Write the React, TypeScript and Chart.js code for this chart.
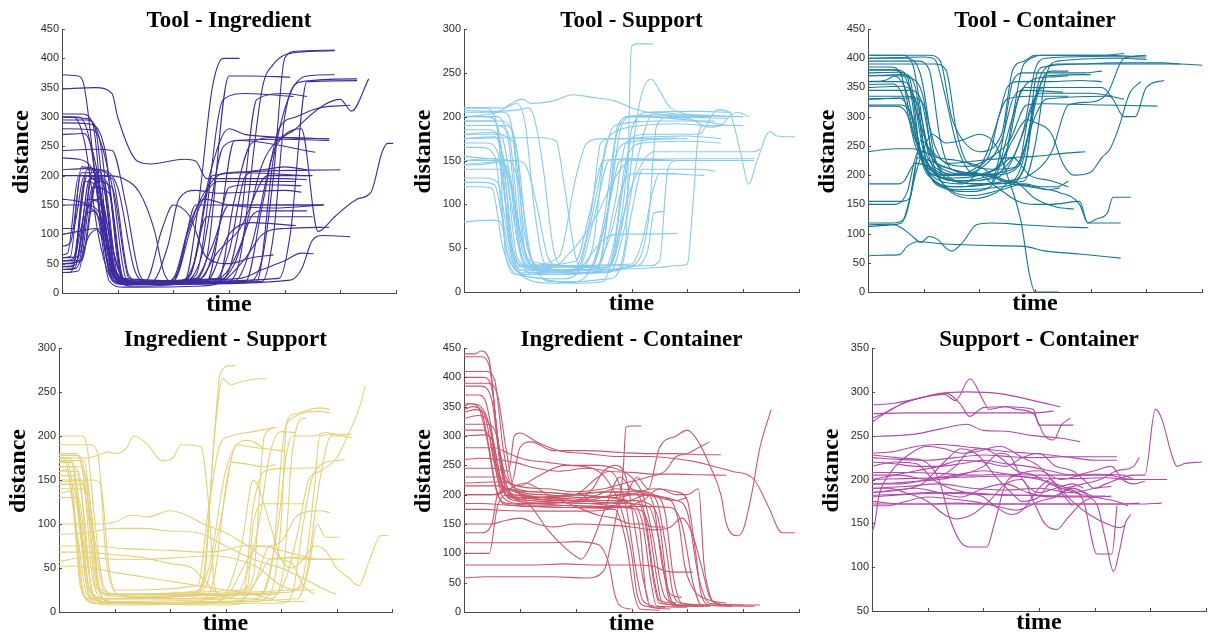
import React, { useEffect, useRef } from "react";
import { Chart, registerables } from "chart.js";
Chart.register(...registerables);

// ---------- data (each line: flat list of time, distance pairs) ----------
const timeTicks = [0, 100, 200, 300, 400, 500, 600];

const toolIngredient: number[][] = [
  [0,55,20,58,45,210,70,205,95,40,115,20,200,18,240,30,290,330,330,340,416,335],
  [0,45,25,48,50,195,75,190,100,30,125,15,230,20,260,60,300,370,340,370,410,368],
  [0,35,30,38,55,180,85,170,110,25,140,18,250,25,280,100,310,260,400,262,480,260],
  [0,60,15,62,35,215,60,210,85,50,105,22,180,15,210,40,240,150,280,150,470,150],
  [0,50,35,55,65,200,90,195,120,30,150,15,300,20,320,60,360,350,380,390,420,410,490,413],
  [0,40,22,42,48,150,70,160,100,20,130,12,210,15,240,60,270,200,330,205,440,200],
  [0,100,30,105,60,110,95,40,120,15,260,20,300,180,340,185,430,183],
  [0,300,40,298,60,280,85,60,105,20,200,15,230,30,260,130,300,130,450,130],
  [0,295,45,295,70,250,95,40,115,18,220,20,250,60,290,250,320,260,455,240],
  [0,290,50,288,78,240,105,30,130,15,330,18,360,60,380,200,400,400,420,412,490,414],
  [0,305,35,305,55,290,80,60,100,18,170,15,200,25,230,120,280,200,300,205,500,210],
  [0,280,55,278,80,220,110,20,140,15,360,20,380,100,400,300,430,360,530,365],
  [0,300,30,300,52,250,72,100,92,20,190,18,230,30,265,200,300,280,330,270,480,263],
  [0,372,28,370,38,360,60,200,85,40,110,15,200,20,235,120,280,190,420,190],
  [0,348,60,350,90,340,100,300,135,225,160,220,220,228,240,225,260,195,400,195,440,193],
  [0,243,60,245,90,243,115,150,140,30,165,15,260,20,300,100,340,120,420,115],
  [0,210,40,212,70,210,100,180,130,40,150,20,240,25,270,80,300,150,360,150,470,150],
  [0,230,30,228,60,200,90,80,110,25,280,20,310,50,340,130,360,140,440,140],
  [0,200,80,200,110,195,140,170,165,110,185,30,210,15,410,22,430,40,450,90,470,98,518,96],
  [0,150,40,150,65,140,95,40,120,20,280,25,320,80,360,220,400,270,430,280,460,105,490,130,530,160,555,172,575,240,585,255,595,255],
  [0,60,30,62,55,200,80,190,110,25,140,15,310,20,340,80,380,240,420,280,470,320,500,330,520,310,551,365],
  [0,45,20,45,40,190,65,180,90,35,110,18,390,25,410,100,440,360,530,362],
  [0,50,25,52,45,160,70,150,95,30,120,20,320,25,360,40,400,55,430,68,452,67],
  [0,40,25,42,50,100,75,110,100,20,140,15,220,20,245,150,270,350,290,400,319,400],
  [0,55,35,55,60,190,90,180,120,25,160,15,330,20,360,150,390,280,420,300,460,315,518,320],
  [0,35,15,35,40,130,60,140,85,20,110,10,250,12,290,20,330,60,360,100,400,110,480,112],
  [0,65,10,68,30,200,55,200,80,60,100,22,160,18,190,80,210,160,240,175,280,170,400,175,430,172],
  [0,160,20,158,45,150,70,120,95,30,115,15,240,18,280,70,320,110,370,200,420,200,450,200],
  [0,50,20,50,45,200,70,195,95,60,115,20,350,20,380,230,410,340,440,370,490,372],
  [0,55,30,55,55,210,85,200,115,25,145,15,280,20,310,160,340,255,380,265,480,263],
  [0,270,40,272,65,200,90,40,110,15,200,20,225,100,255,160,300,150,380,145,470,150],
  [0,300,20,300,40,260,65,100,85,30,105,15,270,18,300,70,330,200,360,210,400,215,440,210],
  [0,110,20,110,40,200,60,190,90,40,110,20,290,25,320,120,350,330,400,340,440,335],
  [0,80,15,85,35,205,60,205,85,70,105,25,150,20,180,110,200,150,230,130,260,60,300,50,340,60,380,65],
];

const toolSupport: number[][] = [
  [0,205,70,205,85,190,105,60,125,30,200,25,230,50,250,150,270,190,350,195,450,195],
  [0,200,60,200,80,170,100,50,120,25,220,22,250,80,270,170,290,200,380,202,500,200],
  [0,195,55,195,70,150,90,45,110,28,240,30,260,100,275,190,300,200,420,195,470,190],
  [0,190,75,190,95,160,110,40,140,25,260,28,285,120,300,175,400,178,460,175],
  [0,180,65,180,85,120,105,35,125,20,280,25,300,90,320,140,420,140,450,138],
  [0,175,55,177,75,140,95,40,115,30,200,35,225,90,250,150,300,152,380,150],
  [0,150,50,152,80,150,100,120,120,40,140,25,230,30,260,100,280,150,400,152,520,152],
  [0,145,40,146,60,148,80,140,95,60,115,30,300,32,320,60,340,120,350,135,430,133],
  [0,155,45,152,70,148,90,80,105,35,150,20,250,25,270,60,290,150,320,170,400,172,460,170],
  [0,140,60,140,80,135,100,70,120,30,160,22,310,30,330,50,340,90,360,92],
  [0,80,50,82,65,80,80,40,100,22,200,25,250,60,280,66,330,66,384,67],
  [0,210,45,210,70,210,95,215,110,190,125,100,140,40,160,25,260,22,290,80,310,150,340,205,400,202,480,200],
  [0,200,60,205,85,215,105,220,120,215,160,218,195,225,230,222,270,218,300,210,330,205,390,200,470,198],
  [0,207,60,206,100,208,115,210,125,200,140,150,160,50,175,30,260,28,285,100,300,185,330,205,420,206,480,205],
  [0,185,45,185,65,170,80,60,100,20,160,10,260,15,290,60,300,280,310,283,330,283,339,283],
  [0,170,40,170,60,160,85,50,105,30,260,30,290,100,310,200,320,230,335,243,350,230,370,210,440,200],
  [0,130,35,130,60,125,80,60,100,25,180,20,210,40,230,100,245,170,265,175,330,175,380,176],
  [0,125,35,125,55,122,70,80,90,30,230,25,260,60,290,130,310,135,380,135],
  [0,145,50,148,70,148,90,100,110,35,140,25,350,28,380,30,400,32,410,100,420,180,430,190,500,190],
  [0,190,55,190,80,180,100,70,120,35,200,30,240,30,270,100,290,170,330,180,420,180,455,208,475,205,495,160,510,123,525,150,548,183,560,178,593,177],
  [0,165,30,165,55,155,75,50,95,25,140,15,200,10,250,12,270,50,300,120,340,160,420,160,520,160,530,163],
  [0,150,60,150,90,150,110,145,130,100,150,40,170,30,330,30,350,35,365,140,380,150,450,150,520,150],
  [0,200,40,200,60,190,75,40,95,20,200,20,220,60,240,120,255,170,280,185,320,190,380,192,430,190],
  [0,195,65,195,85,185,110,60,130,25,150,12,200,12,230,30,260,100,280,185,300,200,400,198,440,188,460,190,475,200,490,205,510,200],
  [0,180,50,182,80,175,95,160,115,50,135,30,240,28,270,150,290,170,400,175],
  [0,120,30,120,50,118,70,50,95,20,180,15,210,30,235,90,260,150,300,152,360,150],
  [0,150,40,150,70,145,85,50,100,25,160,28,190,45,210,60,240,90,270,130,300,150,370,150],
  [0,210,35,210,55,200,75,100,90,40,110,30,170,40,200,130,220,170,250,175,320,175],
  [0,175,80,176,140,176,165,172,180,120,200,40,215,25,300,30,330,80,345,190,370,200,440,200],
];

const toolContainer: number[][] = [
  [0,405,60,405,80,390,105,250,125,200,160,190,230,195,280,280,300,380,320,400,400,403,480,402],
  [0,400,70,400,95,370,120,230,140,195,200,185,280,190,300,250,320,370,340,395,450,400,500,398],
  [0,395,90,395,110,380,130,260,150,210,200,200,240,205,260,300,280,390,320,405,420,405,460,408],
  [0,390,120,390,140,380,160,270,180,220,230,210,270,215,290,280,310,370,340,390,470,390,560,390,600,388],
  [0,380,50,380,70,370,90,260,110,200,150,180,220,185,240,250,260,360,280,375,390,375,420,378],
  [0,375,55,376,75,365,95,230,120,190,160,175,240,180,280,210,300,320,320,370,400,372],
  [0,370,65,372,85,350,105,220,130,180,180,172,220,180,260,300,280,350,420,350,440,330,460,300,480,300,500,350,532,362],
  [0,360,60,360,80,340,100,240,125,200,170,190,230,200,270,215,290,310,310,340,400,340,440,335],
  [0,355,45,356,65,330,85,250,110,210,150,200,200,210,240,260,260,330,280,345,350,342],
  [0,335,70,335,90,320,110,240,135,210,190,200,240,205,270,220,300,300,320,330,430,335,460,330],
  [0,330,80,332,100,320,120,250,140,220,180,215,220,230,255,260,285,320,320,322,420,320,520,318],
  [0,320,60,320,80,300,100,220,120,190,160,180,210,185,250,190,290,200,330,240,360,320,400,325,430,340,460,400,500,405],
  [0,318,50,318,70,305,85,260,105,220,130,195,180,190,260,230,300,330,320,375,330,378,360,378],
  [0,345,75,345,95,330,115,240,140,200,200,185,230,185,260,190,280,230,300,330,320,350,400,350],
  [0,360,30,362,50,370,80,365,100,330,115,230,140,180,190,165,240,175,280,185,310,180,340,180,360,190],
  [0,400,100,402,120,398,140,330,160,250,185,205,220,200,250,190,300,180,320,175,345,178],
  [0,155,60,155,75,160,95,260,115,240,145,220,200,225,260,230,300,232,360,238,390,240],
  [0,150,50,150,70,170,90,240,115,210,150,170,190,160,230,170,260,190,300,160,340,145,370,142],
  [0,185,55,185,65,190,85,220,110,215,140,200,190,205,230,180,270,155,300,150,330,150,380,155,395,118,410,125,430,135,440,162,472,162],
  [0,240,50,245,80,245,100,240,125,230,160,225,200,215,240,190,290,180,345,170,380,150,395,118,454,118],
  [0,118,45,118,65,125,85,200,100,245,115,270,140,255,170,260,200,270,230,250,250,200,275,120,290,30,300,0,342,0],
  [0,115,40,116,60,110,80,95,95,85,110,95,125,90,140,75,150,70,170,85,195,115,220,118,280,115,330,112,396,110],
  [0,62,25,63,57,64,70,78,90,86,140,82,200,80,240,79,280,78,320,70,380,65,454,58],
  [0,112,30,114,60,118,75,160,90,230,110,225,150,210,200,200,230,210,260,230,290,200,330,190,360,180],
  [0,385,40,385,60,370,80,280,100,220,130,190,170,185,210,230,235,300,250,350,270,360,330,360,380,362,420,360],
  [0,405,110,405,130,395,150,300,170,260,200,240,240,270,260,380,280,395,300,405,420,405,500,402],
  [0,330,55,332,75,310,95,230,120,200,150,200,190,210,220,240,235,300,250,330,290,335,360,335],
  [0,370,45,370,70,340,90,250,110,205,150,195,200,200,250,245,270,330,300,365,330,368,360,370],
  [0,350,60,352,85,330,100,250,125,210,170,200,230,210,260,260,285,295,300,290,330,270,350,220,370,200,400,205,420,230,435,245,450,280,470,340,490,360],
  [0,380,40,380,65,370,90,300,115,230,150,210,210,200,255,190,285,230,300,360,315,385,380,390,440,392,530,392,560,390],
];

const ingredientSupport: number[][] = [
  [0,175,20,175,35,120,50,30,65,15,200,18,240,20,260,40,280,200,290,270,310,280,317,280],
  [0,170,25,170,40,100,55,25,75,15,230,15,260,30,280,200,295,265,310,258,320,260,360,265,374,265],
  [0,165,30,165,45,110,60,20,80,12,300,15,330,30,360,100,380,180,400,205,425,204],
  [0,178,35,178,50,140,65,30,90,20,330,25,350,40,370,200,392,210],
  [0,160,15,162,30,100,45,20,70,10,350,12,380,20,400,100,410,215,425,225,470,232,488,230],
  [0,150,40,150,55,100,70,25,100,18,360,20,385,60,405,200,420,220,470,228,488,226],
  [0,145,45,145,60,90,75,20,100,10,380,15,405,50,420,180,440,220,445,220],
  [0,140,50,140,65,80,80,25,110,20,420,25,440,40,460,140,470,200,500,202,527,202],
  [0,135,20,137,35,80,50,20,80,12,400,10,420,20,440,100,455,150,480,170,500,172,515,173],
  [0,200,40,200,50,190,65,100,80,30,100,20,260,25,290,100,320,190,340,188,380,185,405,183],
  [0,190,55,190,70,180,85,60,100,25,250,30,270,120,290,190,310,200,350,205,392,210],
  [0,175,50,175,70,178,90,182,100,180,120,185,135,200,160,190,185,172,205,175,220,190,255,188,270,120,280,30,290,20,400,22,440,30,470,150,490,200,520,200],
  [0,100,60,100,100,102,130,110,160,108,200,115,230,110,260,100,300,90,340,75,380,60,430,62,460,60,490,60,515,60],
  [0,88,50,90,100,95,150,95,200,92,250,90,300,75,350,60,400,50,450,35,480,25,500,20],
  [0,75,60,75,120,72,200,70,260,68,300,70,330,75,370,75,400,80,430,110,470,115,488,113],
  [0,68,50,68,100,65,150,62,200,55,240,50,270,30,290,20,330,15,360,40,380,60,410,62,440,60,460,60],
  [0,52,30,52,60,50,100,45,150,40,200,35,250,30,300,25,350,20,380,15,400,12,443,12],
  [0,180,30,180,45,150,60,40,80,15,120,10,300,8,330,10,350,120,370,160,400,163,470,164],
  [0,155,25,155,40,90,55,25,85,15,310,20,340,30,350,100,370,123,440,123],
  [0,170,10,172,25,120,40,30,60,10,280,12,300,20,330,80,350,150,380,100,400,60,420,50,440,60,460,75,480,70,500,50,520,40,540,30,560,60,580,87,594,87],
  [0,165,40,165,55,130,70,30,95,20,390,20,410,40,430,90,450,150,470,160,500,175,520,200,540,230,552,257],
  [0,175,10,175,25,140,38,30,55,15,350,15,370,25,395,100,410,180,420,200,460,200,480,204,510,200,527,198],
  [0,160,35,160,50,70,60,20,85,10,250,12,280,40,300,140,310,170,340,168,370,165,390,168],
  [0,172,45,172,60,100,75,20,100,10,430,15,450,50,465,100,480,85,505,85],
  [0,145,25,145,40,80,55,15,90,8,280,10,310,25,340,60,360,75,400,70,430,65,470,60,500,60],
  [0,130,35,130,50,60,62,20,80,15,240,20,270,50,300,160,320,190,340,195,360,190,370,185],
  [0,148,60,150,75,145,90,50,105,20,200,15,300,18,350,30,380,75,400,60,420,55,440,30,460,20],
  [0,57,20,60,50,62,100,60,160,60,220,62,280,64,320,60,360,50,400,30,430,25,460,25],
];

const ingredientContainer: number[][] = [
  [0,440,20,440,30,445,45,430,60,300,75,220,90,200,150,195,250,190,300,185,320,150,335,50,345,10,400,8],
  [0,435,30,435,45,420,60,300,75,210,100,195,200,190,280,185,330,180,350,120,365,30,375,10,430,10],
  [0,400,35,400,50,380,65,260,85,200,120,190,220,185,300,180,370,178,390,150,410,50,425,12,520,10],
  [0,390,45,390,60,370,75,280,90,210,140,200,220,195,300,200,380,190,400,170,420,60,440,15,500,12],
  [0,385,30,385,50,360,65,250,80,200,130,185,230,180,310,175,330,150,345,60,355,15,420,10],
  [0,350,10,355,25,350,40,300,55,220,70,185,120,180,200,178,270,175,290,120,305,30,315,5,350,3],
  [0,345,15,350,30,345,45,280,60,200,80,185,160,182,250,180,300,178,315,140,325,40,335,8,370,5],
  [0,340,20,345,35,340,55,250,70,195,100,185,200,188,260,190,310,190,325,150,340,50,350,15,400,12],
  [0,330,25,335,45,320,60,240,75,200,110,195,200,200,260,205,320,205,340,180,355,80,370,30,390,25],
  [0,310,30,310,45,300,60,230,75,200,120,190,220,185,290,188,330,200,345,190,360,120,375,30,390,15,450,12,530,12],
  [0,300,35,302,50,295,65,230,80,195,130,195,190,200,250,205,320,200,370,190,385,150,395,80,410,40,440,20,470,15],
  [0,260,30,262,60,260,90,255,130,245,170,240,220,245,260,240,300,238,340,235,380,235,420,234,470,233],
  [0,280,30,280,55,280,80,270,110,260,150,255,200,250,240,250,270,245,300,230,320,200,340,120,350,60,360,25,380,15],
  [0,245,50,245,80,240,90,300,100,305,130,290,170,275,220,270,280,265,330,265,390,260,420,255,440,250,480,240,520,225,545,180,570,135,593,135],
  [0,230,60,230,85,220,100,280,120,290,160,275,220,275,280,272,330,270,380,270,430,268,460,268],
  [0,220,70,222,100,215,130,230,180,250,230,245,260,220,280,180,300,100,310,30,325,10,360,8],
  [0,200,60,200,80,210,110,200,150,195,200,200,240,230,260,240,290,180,310,60,320,20,340,10],
  [0,135,30,135,50,150,60,200,80,210,120,180,150,140,180,110,200,95,210,90,230,120,250,170,280,230,300,210,330,200,380,190,400,195],
  [0,100,30,100,45,100,60,180,80,200,140,195,200,190,240,200,270,210,300,208,340,200,360,170,375,60,390,15,420,12],
  [0,118,80,118,150,118,200,120,240,115,260,80,270,30,280,10,300,5],
  [0,80,60,80,120,80,180,82,240,80,300,80,340,78,360,70,380,68,410,68],
  [0,58,40,60,100,60,160,60,220,58,250,70,270,150,285,240,290,315,300,317,318,317],
  [0,185,30,185,80,182,130,180,190,178,240,178,280,178,320,190,350,210,380,200,400,200,420,210,430,80,440,30,450,15,480,12],
  [0,175,40,175,70,173,140,172,220,172,260,175,290,200,310,230,330,210,350,280,380,300,400,310,420,290,440,250,460,200,470,150,490,130,500,140,515,200,530,280,550,345],
  [0,320,40,320,55,310,75,230,95,215,150,210,200,205,250,210,290,220,330,230,360,240,380,265,400,270,420,280,440,290],
  [0,355,15,355,30,350,45,320,60,240,75,210,120,205,200,200,270,195,300,200,340,210,380,205,400,190,415,100,425,30,440,12,480,10],
  [0,150,50,150,70,155,100,160,130,150,160,145,200,150,260,148,300,145,340,140,370,145,390,160,410,130,430,60,440,25,460,12],
  [0,410,40,410,55,395,70,280,85,215,130,205,200,200,260,195,300,190,330,185,350,150,365,40,380,12,440,10],
  [0,370,25,370,40,355,55,280,70,210,90,190,150,185,220,190,280,200,310,200,325,160,340,60,350,20,380,15],
  [0,200,50,200,80,210,110,220,150,200,200,180,240,165,270,160,300,150,320,150,340,145,360,145],
  [0,215,60,215,90,205,120,195,160,190,200,190,230,210,250,240,270,250,290,230,305,150,320,60,330,20],
];

const supportContainer: number[][] = [
  [0,285,40,287,80,292,120,298,170,300,230,298,290,290,338,283],
  [0,265,10,270,50,285,100,295,130,297,150,290,176,315,200,290,210,280,240,283,260,280,290,275,310,250,326,245,340,262,356,270],
  [0,275,60,276,120,276,180,276,240,276,290,276,326,278],
  [0,270,20,275,60,288,100,295,135,298,160,285,175,272,200,282,240,283,290,280,300,262,330,262,362,262],
  [0,249,40,250,80,252,125,258,170,263,200,256,240,255,290,250,340,247,374,243],
  [0,228,30,226,60,224,90,222,120,200,140,155,160,128,180,123,206,123,220,150,240,195,260,205,300,210,340,200,380,205,420,205,470,200,530,200],
  [0,200,40,205,80,210,120,215,160,222,200,220,240,215,270,225,300,230,330,215,360,210,380,200,400,190,420,195,470,205,490,205,509,280,520,270,540,225,548,215,560,218,593,220],
  [0,185,40,188,80,190,120,185,160,180,200,190,240,195,280,185,320,180,360,190,390,180,405,170,420,130,434,95,445,120,455,150,465,160],
  [0,195,50,195,100,200,150,205,200,210,250,205,300,200,350,190,380,175,404,115,431,115,440,170],
  [0,175,60,172,120,172,180,172,240,172,300,172,360,172,420,172,480,172,520,173],
  [0,172,50,172,100,172,150,173,200,172,250,172,300,172,350,172,400,172,440,172,480,173],
  [0,182,50,183,100,185,150,184,200,183,250,182,300,182,350,180,400,180,430,181],
  [0,180,40,182,100,184,160,185,220,183,280,182,330,181,380,181,420,181],
  [0,200,60,201,120,202,180,203,240,204,300,202,360,201,420,202,460,200,530,200],
  [0,208,60,208,120,207,180,205,240,206,300,205,360,205,400,206,450,205,470,200],
  [0,190,60,192,120,195,180,190,240,188,300,190,360,185,400,190,430,192],
  [0,225,50,223,100,222,150,225,200,228,250,226,300,225,350,226,400,226,440,226],
  [0,220,40,218,80,215,120,215,160,218,200,222,240,218,280,215,320,210,360,205,400,210,430,215,450,200,470,195,490,198],
  [0,140,5,150,12,180,30,205,70,230,100,238,130,235,160,230,190,232,230,238,270,225,300,215,330,195,360,175,390,160,420,150,446,145,455,148],
  [0,215,40,220,80,218,110,200,140,190,170,185,200,180,220,170,250,160,270,165,300,190,320,200,340,185,360,170],
  [0,190,30,190,60,185,100,175,130,160,150,155,180,160,210,175,240,195,270,200,290,175,310,150,332,143,350,155,380,175,400,180],
  [0,205,50,205,100,200,150,215,170,230,200,235,230,225,260,210,290,205,320,195,340,190,380,195,410,200,440,210,470,215,480,225],
  [0,170,30,170,60,175,100,180,140,178,180,175,220,170,260,165,300,175,330,180,360,190,400,180,440,175,460,170],
  [0,230,40,232,80,238,120,240,160,238,200,235,240,232,280,230,320,228,360,225,400,222,440,222],
  [0,195,40,196,80,198,120,200,160,205,200,215,230,230,250,225,270,200,300,185,330,190,360,195,380,190],
  [0,185,50,188,90,195,130,220,160,235,190,228,220,205,250,185,270,175,300,180,320,195,340,190,380,182],
];

const panelTitles = [
  "Tool - Ingredient",
  "Tool - Support",
  "Tool - Container",
  "Ingredient - Support",
  "Ingredient - Container",
  "Support - Container",
];
const panelLines = [toolIngredient, toolSupport, toolContainer, ingredientSupport, ingredientContainer, supportContainer];
const yMins = [0, 0, 0, 0, 0, 50];
const yMaxs = [450, 300, 450, 300, 450, 350];
const yStep = 50;

// ---------- style / layout ----------
const panelColors = [
  "rgb(62,44,158)",
  "rgb(135,202,238)",
  "rgb(22,118,150)",
  "rgb(228,208,122)",
  "rgb(202,88,108)",
  "rgb(178,72,170)",
];
// plot area boxes: left, top, width, height (page pixels)
const plotBoxes = [
  [62, 29, 334, 264],
  [464, 29, 335, 263],
  [868, 29, 334, 263],
  [59, 348, 333, 264],
  [464, 348, 335, 264],
  [872, 348, 334, 263],
];
const LEFT_SPACE = 62;
const TOP_SPACE = 40;
const BOTTOM_SPACE = 26;
const RIGHT_SPACE = 4;
const SERIF = "'Liberation Serif', 'DejaVu Serif', serif";
const SANS = "'Liberation Sans', Arial, sans-serif";
const AXIS_COLOR = "#4a4a4a";

const innerTicks = {
  id: "innerTicks",
  afterDraw(chart: any) {
    const { ctx, chartArea, scales } = chart;
    const xs = scales.x;
    const ys = scales.y;
    ctx.save();
    ctx.strokeStyle = AXIS_COLOR;
    ctx.lineWidth = 1;
    ctx.beginPath();
    for (const t of timeTicks) {
      const px = Math.round(xs.getPixelForValue(t)) + 0.5;
      ctx.moveTo(px, chartArea.bottom);
      ctx.lineTo(px, chartArea.bottom - 3);
    }
    for (const tk of ys.ticks) {
      const py = Math.round(ys.getPixelForValue(tk.value)) + 0.5;
      ctx.moveTo(chartArea.left, py);
      ctx.lineTo(chartArea.left + 3, py);
    }
    ctx.stroke();
    ctx.restore();
  },
};

function toPoints(flat: number[]) {
  const pts: { x: number; y: number }[] = [];
  for (let i = 0; i + 1 < flat.length; i += 2) pts.push({ x: flat[i], y: flat[i + 1] });
  return pts;
}

function Panel({ index }: { index: number }) {
  const ref = useRef<HTMLCanvasElement | null>(null);
  const [pl, pt, pw, ph] = plotBoxes[index];
  const cw = LEFT_SPACE + pw + RIGHT_SPACE;
  const chh = TOP_SPACE + ph + BOTTOM_SPACE;

  useEffect(() => {
    if (!ref.current) return;
    const color = panelColors[index];
    const chart = new Chart(ref.current, {
      type: "line",
      data: {
        datasets: panelLines[index].map((l) => ({
          data: toPoints(l),
          borderColor: color,
          borderWidth: 1.1,
          pointRadius: 0,
          fill: false,
          cubicInterpolationMode: "monotone" as const,
        })),
      },
      options: {
        animation: false,
        responsive: false,
        events: [],
        parsing: false as any,
        layout: { padding: { left: 0, right: RIGHT_SPACE, top: 0, bottom: 0 } },
        plugins: {
          legend: { display: false },
          tooltip: { enabled: false },
          title: {
            display: true,
            text: panelTitles[index],
            fullSize: false,
            color: "#000",
            font: { family: SERIF, size: 23, weight: "bold", lineHeight: 0.6 },
            padding: { top: 25.3, bottom: 0.9 },
          },
        },
        scales: {
          x: {
            type: "linear",
            min: 0,
            max: 600,
            ticks: { display: false, stepSize: 100 },
            grid: { display: false, drawTicks: false },
            border: { display: true, color: AXIS_COLOR, width: 1 },
            title: {
              display: true,
              text: "time",
              color: "#000",
              font: { family: SERIF, size: 24, weight: "bold", lineHeight: 1.2 },
              padding: { top: 0, bottom: 0 },
            },
            afterFit(scale: any) {
              scale.height = BOTTOM_SPACE;
            },
          },
          y: {
            type: "linear",
            min: yMins[index],
            max: yMaxs[index],
            ticks: {
              stepSize: yStep,
              padding: 3,
              color: "#2a2a2a",
              font: { family: SANS, size: 11 },
            },
            grid: { display: false, drawTicks: false },
            border: { display: true, color: AXIS_COLOR, width: 1 },
            title: {
              display: true,
              text: "   distance",
              color: "#000",
              font: { family: SERIF, size: 24, weight: "bold", lineHeight: 1.2 },
              padding: { top: 7.5, bottom: 0 },
            },
            afterFit(scale: any) {
              scale.width = LEFT_SPACE;
            },
          },
        },
      },
      plugins: [innerTicks],
    } as any);
    return () => chart.destroy();
  }, [index]);

  return (
    <canvas
      ref={ref}
      width={cw}
      height={chh}
      style={{
        position: "absolute",
        left: pl - LEFT_SPACE,
        top: pt - TOP_SPACE,
        width: cw,
        height: chh,
      }}
    />
  );
}

export default function App() {
  return (
    <div
      style={{
        position: "absolute",
        left: 0,
        top: 0,
        width: 1208,
        height: 633,
        overflow: "hidden",
        background: "#fff",
      }}
    >
      {panelTitles.map((_, i) => (
        <Panel key={i} index={i} />
      ))}
    </div>
  );
}
